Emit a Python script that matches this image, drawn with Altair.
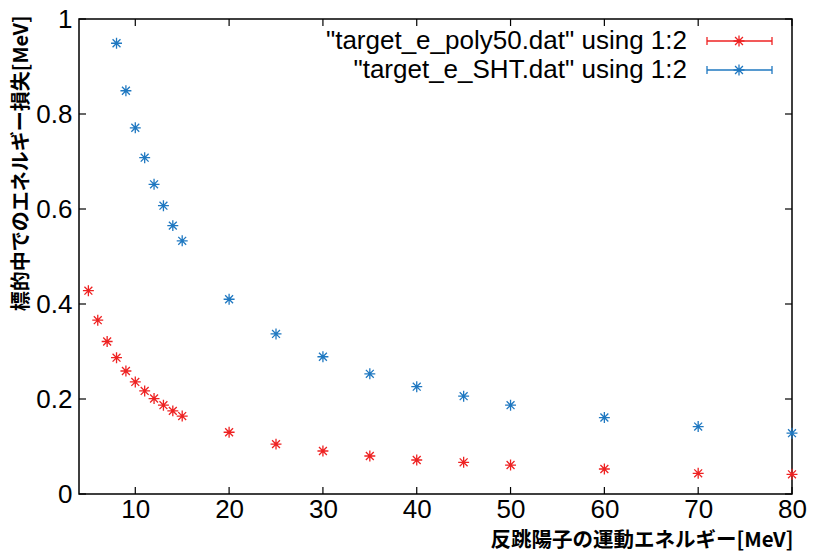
import altair as alt
import pandas as pd

# ---- data ----
x_red = [5, 6, 7, 8, 9, 10, 11, 12, 13, 14, 15, 20, 25, 30, 35, 40, 45, 50, 60, 70, 80]
y_red = [0.428, 0.366, 0.321, 0.287, 0.259, 0.236, 0.217, 0.201, 0.187, 0.175, 0.164,
         0.130, 0.105, 0.0905, 0.080, 0.0716, 0.0667, 0.061, 0.0526, 0.0435, 0.0414]
x_blue = [8, 9, 10, 11, 12, 13, 14, 15, 20, 25, 30, 35, 40, 45, 50, 60, 70, 80]
y_blue = [0.949, 0.849, 0.771, 0.708, 0.652, 0.607, 0.565, 0.533,
          0.410, 0.337, 0.289, 0.253, 0.226, 0.206, 0.187, 0.161, 0.142, 0.128]
series_names = ['"target_e_poly50.dat" using 1:2', '"target_e_SHT.dat" using 1:2']
series_colors = ["#ee2222", "#1f78c1"]
x_ticks = [10, 20, 30, 40, 50, 60, 70, 80]
y_ticks = [0, 0.2, 0.4, 0.6, 0.8, 1]
x_title = "反跳陽子の運動エネルギー[MeV]"
y_title = "標的中でのエネルギー損失[MeV]"

W, H = 713, 475
TICK = 7
STAR = "M-1,0L1,0M0,-1L0,1M-0.72,-0.72L0.72,0.72M-0.72,0.72L0.72,-0.72"
LABEL_FONT = "Liberation Sans"
CJK_FONT = "Noto Sans CJK JP"

df = pd.concat([
    pd.DataFrame({"x": x_red, "y": y_red, "s": series_names[0]}),
    pd.DataFrame({"x": x_blue, "y": y_blue, "s": series_names[1]}),
])

xscale = alt.Scale(domain=[4, 80], nice=False, zero=False)
yscale = alt.Scale(domain=[0, 1], nice=False, zero=False)

xaxis = alt.Axis(values=x_ticks, title=x_title, grid=False, domain=False, ticks=False,
                 labelFont=LABEL_FONT, labelFontSize=26, labelColor="black",
                 labelPadding=2, labelFlush=False, labelOverlap=False, labelBound=False,
                 titleFont=CJK_FONT, titleFontSize=20.5, titleFontWeight="bold",
                 titleColor="black", titleX=714, titleY=46, titleAlign="right",
                 titleBaseline="middle", titleAnchor="end")
yaxis = alt.Axis(values=y_ticks, title=y_title, format="~g", grid=False, domain=False,
                 ticks=False, labelFont=LABEL_FONT, labelFontSize=26, labelColor="black",
                 labelPadding=7, labelFlush=False, labelOverlap=False, labelBound=False,
                 titleFont=CJK_FONT, titleFontSize=20, titleFontWeight="bold",
                 titleColor="black", titleX=-58, titleY=-4, titleAngle=-90,
                 titleAlign="right", titleBaseline="middle", titleAnchor="end")

X = lambda f: alt.X(f, type="quantitative", scale=xscale, axis=xaxis)
Y = lambda f: alt.Y(f, type="quantitative", scale=yscale, axis=yaxis)

points = alt.Chart(df).mark_point(shape=STAR, filled=False, strokeWidth=1.3,
                                  size=120, opacity=1).encode(
    x=X("x"), y=Y("y"),
    color=alt.Color("s:N", scale=alt.Scale(domain=series_names, range=series_colors),
                    legend=None),
)

xt = pd.DataFrame({"xt": x_ticks})
yt = pd.DataFrame({"yt": y_ticks})
tick_style = dict(color="black", strokeWidth=1.2)
bottom_ticks = alt.Chart(xt).mark_rule(**tick_style).encode(
    x=X("xt"), y=alt.value(H), y2=alt.value(H - TICK))
top_ticks = alt.Chart(xt).mark_rule(**tick_style).encode(
    x=X("xt"), y=alt.value(0), y2=alt.value(TICK))
left_ticks = alt.Chart(yt).mark_rule(**tick_style).encode(
    y=Y("yt"), x=alt.value(0), x2=alt.value(TICK))
right_ticks = alt.Chart(yt).mark_rule(**tick_style).encode(
    y=Y("yt"), x=alt.value(W), x2=alt.value(W - TICK))

legend_layers = []
for i, (name, col) in enumerate(zip(series_names, series_colors)):
    ly = 22 + 29 * i
    one = pd.DataFrame({"label": [name]})
    legend_layers.append(alt.Chart(one).mark_text(
        align="right", baseline="middle", font=LABEL_FONT, fontSize=26, color="black"
    ).encode(x=alt.value(608), y=alt.value(ly), text="label:N"))
    legend_layers.append(alt.Chart(one).mark_rule(color=col, strokeWidth=1.3).encode(
        x=alt.value(628), x2=alt.value(693), y=alt.value(ly)))
    legend_layers.append(alt.Chart(one).mark_rule(color=col, strokeWidth=1.3).encode(
        x=alt.value(628), y=alt.value(ly - 4), y2=alt.value(ly + 4)))
    legend_layers.append(alt.Chart(one).mark_rule(color=col, strokeWidth=1.3).encode(
        x=alt.value(693), y=alt.value(ly - 4), y2=alt.value(ly + 4)))
    legend_layers.append(alt.Chart(one).mark_point(
        shape=STAR, filled=False, strokeWidth=1.3, size=120, opacity=1, color=col
    ).encode(x=alt.value(660), y=alt.value(ly)))

chart = alt.layer(points, bottom_ticks, top_ticks, left_ticks, right_ticks,
                  *legend_layers).properties(
    width=W, height=H,
    autosize=alt.AutoSizeParams(type="none"),
    padding={"left": 79, "top": 19, "right": 23, "bottom": 59},
    background="white",
).configure_view(stroke="black", strokeWidth=1.5)

chart.save("out.html", embed_options={"renderer": "svg", "actions": False})
